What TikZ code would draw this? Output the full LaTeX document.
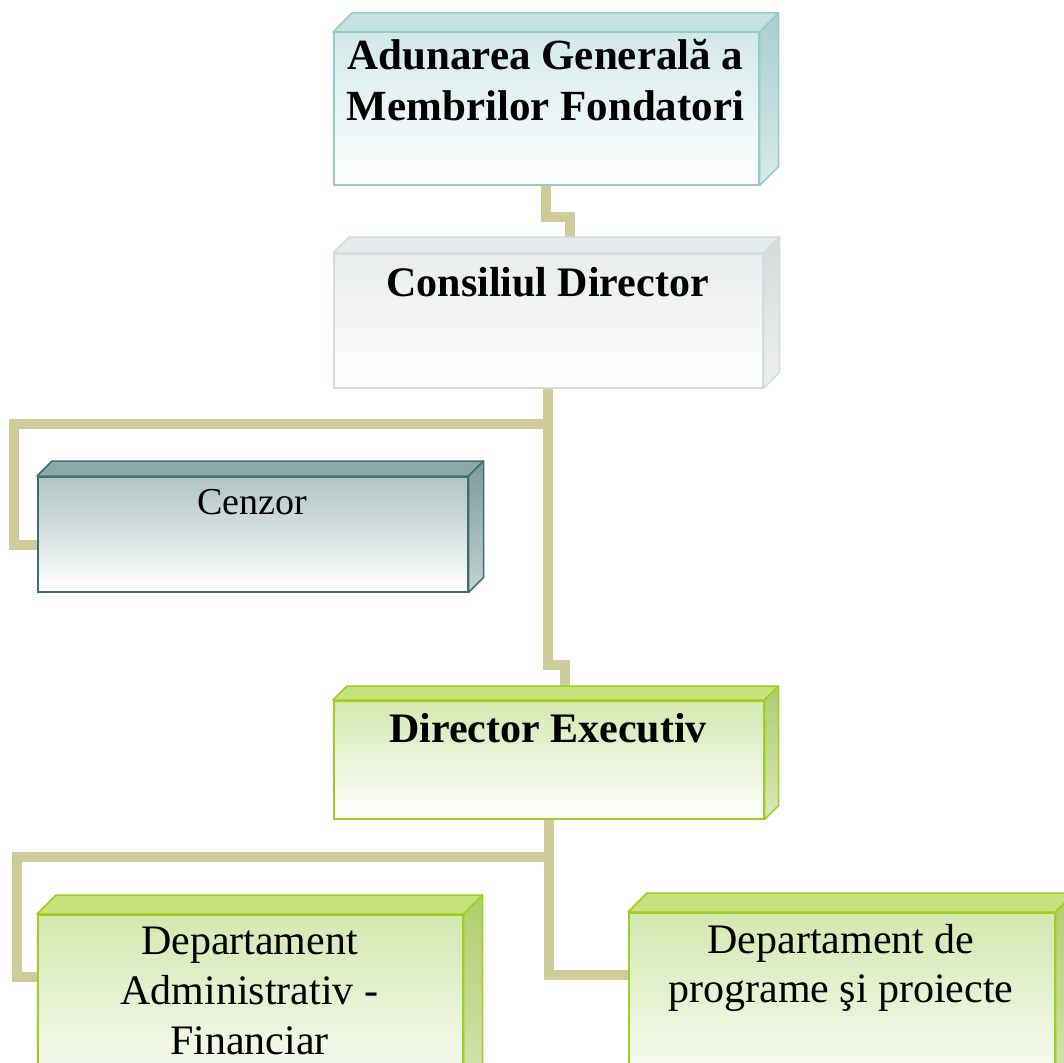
\documentclass[tikz,border=0pt]{standalone}
\usepackage{fontspec}
\setmainfont{Liberation Serif}
\usetikzlibrary{backgrounds}

% colours of the boxes and connectors
\definecolor{adLine}{HTML}{93CCCC}
\definecolor{adFront}{HTML}{D2E9E9}
\definecolor{adTop}{HTML}{C5E1E1}
\definecolor{adSide}{HTML}{A9CFCF}
\definecolor{cdLine}{HTML}{D3DDDD}
\definecolor{cdFront}{HTML}{E8ECEC}
\definecolor{cdTop}{HTML}{E5EAEA}
\definecolor{cdSide}{HTML}{D4DBDB}
\definecolor{czLine}{HTML}{3F6E6E}
\definecolor{czFront}{HTML}{B1C4C4}
\definecolor{czTop}{HTML}{8BA9A9}
\definecolor{czSide}{HTML}{7C9A9A}
\definecolor{grLine}{HTML}{9CCF1F}
\definecolor{grFront}{HTML}{D3E8B0}
\definecolor{grTop}{HTML}{C6E27A}
\definecolor{grSide}{HTML}{AFCC6C}
\definecolor{connKhaki}{HTML}{CFCC99}

\begin{document}
\begin{tikzpicture}[x=1pt, y=-1pt,
    box/.style={rectangle, anchor=north west, inner sep=0pt, line width=1.5pt,
        draw=#1Line, top color=#1Front, middle color=#1Front!60!white, bottom color=white},
    boxtext/.style={anchor=north, inner sep=0pt, align=center,
        font=\fontsize{42}{49}\selectfont},
    conn/.style={draw=connKhaki, line width=10pt}]

\useasboundingbox (0,0) rectangle (1064,1062);
\clip (0,0) rectangle (1064,1062);

% Front faces of the boxes
\node[box=ad, minimum width=425pt, minimum height=152pt] (adunare) at (333,32) {};
\node[box=cd, minimum width=429pt, minimum height=134pt] (consiliu) at (333,253) {};
\node[box=cz, minimum width=430pt, minimum height=115pt] (cenzor) at (37,476) {};
\node[box=gr, minimum width=430pt, minimum height=118pt] (director) at (333,700) {};
\node[box=gr, minimum width=425pt, minimum height=200pt] (deptAdmin) at (37,914) {};
\node[box=gr, minimum width=426pt, minimum height=200pt] (deptProg) at (628,912) {};

% Top and side faces
\foreach \n/\d/\c in {adunare/19/ad, consiliu/16/cd, cenzor/15/cz,
                      director/14/gr, deptAdmin/19/gr, deptProg/19/gr} {
    \filldraw[draw=\c Line, fill=\c Top, line width=1.5pt, line join=round]
        (\n.north west) -- ([shift={(\d,-\d)}]\n.north west)
        -- ([shift={(\d,-\d)}]\n.north east) -- (\n.north east) -- cycle;
    \path[draw=\c Line, top color=\c Side, bottom color=\c Side!45!white,
          line width=1.5pt, line join=round]
        (\n.north east) -- ([shift={(\d,-\d)}]\n.north east)
        -- ([shift={(\d,-\d)}]\n.south east) -- (\n.south east) -- cycle;
}

% Labels
\node[boxtext, font=\fontsize{43}{51}\selectfont\bfseries] (adunareText) at (545.5,39)
    {Adunarea Generală a\\Membrilor Fondatori};
\node[boxtext, font=\fontsize{42}{49}\selectfont\bfseries] (consiliuText) at (547.5,267)
    {Consiliul Director};
\node[boxtext, font=\fontsize{38}{45}\selectfont] (cenzorText) at (252,489) {Cenzor};
\node[boxtext, font=\fontsize{42}{49}\selectfont\bfseries] (directorText) at (548,713)
    {Director Executiv};
\node[boxtext, font=\fontsize{42}{50}\selectfont] (deptAdminText) at (249.5,927)
    {Departament\\Administrativ -\\Financiar};
\node[boxtext, font=\fontsize{42}{49}\selectfont] (deptProgText) at (841,924)
    {Departament de\\programe şi proiecte};

% Connectors
\begin{scope}[on background layer]
\draw[conn] (adunare.south) -- ++(0,31) -| ([xshift=22pt,yshift=8pt]consiliu.north);
\draw[conn] (consiliu.south) |- (14,424) |- ([xshift=5pt,yshift=-11pt]cenzor.west);
\draw[conn] (consiliu.south) -- ++(0,276) -| ([xshift=16pt,yshift=8pt]director.north);
\draw[conn] (director.south) |- (17,857) |- ([xshift=5pt,yshift=-63pt]deptAdmin.north west);
\draw[conn] (director.south) |- ([xshift=5pt,yshift=-63pt]deptProg.north west);
\end{scope}

\end{tikzpicture}
\end{document}
